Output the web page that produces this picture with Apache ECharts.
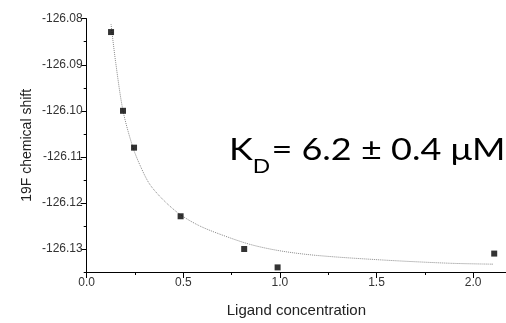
<!DOCTYPE html>
<html>
<head>
<meta charset="utf-8">
<script src="https://cdn.jsdelivr.net/npm/echarts@6/dist/echarts.min.js"></script>
<style>html,body{margin:0;padding:0;background:#fff}#c{width:506px;height:323px}</style>
</head>
<body>
<div id="c"></div>
<script>
// Measured points: ligand concentration vs 19F chemical shift
var concX = [0.126, 0.188, 0.245, 0.486, 0.815, 0.988, 2.109];
var shiftY = [-126.0829, -126.1000, -126.1080, -126.1229, -126.1300, -126.1340, -126.1310];
// Fitted curve
var fitX = [0.126, 0.150, 0.188, 0.238, 0.280, 0.327, 0.400, 0.483, 0.580, 0.690, 0.845, 1.000, 1.190, 1.534, 1.879, 2.103];
var fitY = [-126.0812, -126.0895, -126.1000, -126.1078, -126.1122, -126.1160, -126.1195, -126.1225, -126.1249, -126.1268, -126.1290, -126.1304, -126.1314, -126.1324, -126.1331, -126.1333];
// Tick values
var yMajorTicks = [-126.13, -126.12, -126.11, -126.10, -126.09, -126.08];
var yMinorTicks = [-126.135, -126.125, -126.115, -126.105, -126.095, -126.085];
var xTitle = 'Ligand concentration';
var yTitle = '19F chemical shift';
var annotation = ['K', 'D', '= 6.2 ± 0.4 μM'];

var chart = echarts.init(document.getElementById('c'), null, {renderer: 'canvas'});
var pts = concX.map(function (x, i) { return [x, shiftY[i]]; });
var fit = fitX.map(function (x, i) { return [x, fitY[i]]; });
var axisFont = {fontFamily: 'Liberation Sans', fontSize: 12, color: '#333'};
chart.setOption({
  animation: false,
  grid: {left: 86.7, right: 0, top: 18.7, bottom: 43},
  xAxis: {
    type: 'value', min: 0, max: 2.17, interval: 0.5,
    name: xTitle, nameLocation: 'middle', nameGap: 31, nameMoveOverlap: false,
    nameTextStyle: {fontFamily: 'Liberation Sans', fontSize: 15, color: '#222'},
    axisLine: {show: true, onZero: false, lineStyle: {color: '#000', width: 1}},
    axisTick: {show: true, inside: false, length: 6, lineStyle: {color: '#000'}},
    minorTick: {show: true, splitNumber: 2, length: 3, lineStyle: {color: '#000'}},
    splitLine: {show: false},
    axisLabel: Object.assign({margin: 5, showMaxLabel: false, formatter: function (v) { return v.toFixed(1); }}, axisFont)
  },
  yAxis: [{
    type: 'value', min: -126.135, max: -126.08,
    name: yTitle, nameLocation: 'middle', nameGap: 53, nameRotate: 90, nameMoveOverlap: false,
    nameTextStyle: {fontFamily: 'Liberation Sans', fontSize: 14, color: '#222'},
    axisLine: {show: true, onZero: false, lineStyle: {color: '#000', width: 1}},
    axisTick: {show: true, inside: false, length: 6, customValues: yMajorTicks, lineStyle: {color: '#000'}},
    splitLine: {show: false},
    axisLabel: Object.assign({margin: 4, customValues: yMajorTicks, formatter: function (v) { return v.toFixed(2); }}, axisFont)
  }, {
    type: 'value', min: -126.135, max: -126.08, position: 'left',
    axisLine: {show: false},
    axisTick: {show: true, inside: false, length: 3, customValues: yMinorTicks, lineStyle: {color: '#000'}},
    splitLine: {show: false},
    axisLabel: {show: false}
  }],
  graphic: [{
    type: 'text', x: 229, y: 135.5, scaleX: 1.2, scaleY: 1,
    style: {
      rich: {
        a: {fontFamily: 'Lato', fontSize: 30, lineHeight: 40, verticalAlign: 'top', fill: '#000'},
        s: {fontFamily: 'Lato', fontSize: 19, lineHeight: 20, verticalAlign: 'top', padding: [22, 1, 0, 0], fill: '#000'}
      },
      text: '{a|' + annotation[0] + '}{s|' + annotation[1] + '}{a|' + annotation[2] + '}'
    }
  }],
  series: [{
    type: 'line', data: fit, smooth: 0.3, symbol: 'none',
    lineStyle: {color: '#888', width: 1, type: 'dotted'}, z: 1
  }, {
    type: 'scatter', data: pts, symbol: 'rect', symbolSize: 6,
    itemStyle: {color: '#000'}, z: 2
  }]
});
</script>
</body>
</html>
